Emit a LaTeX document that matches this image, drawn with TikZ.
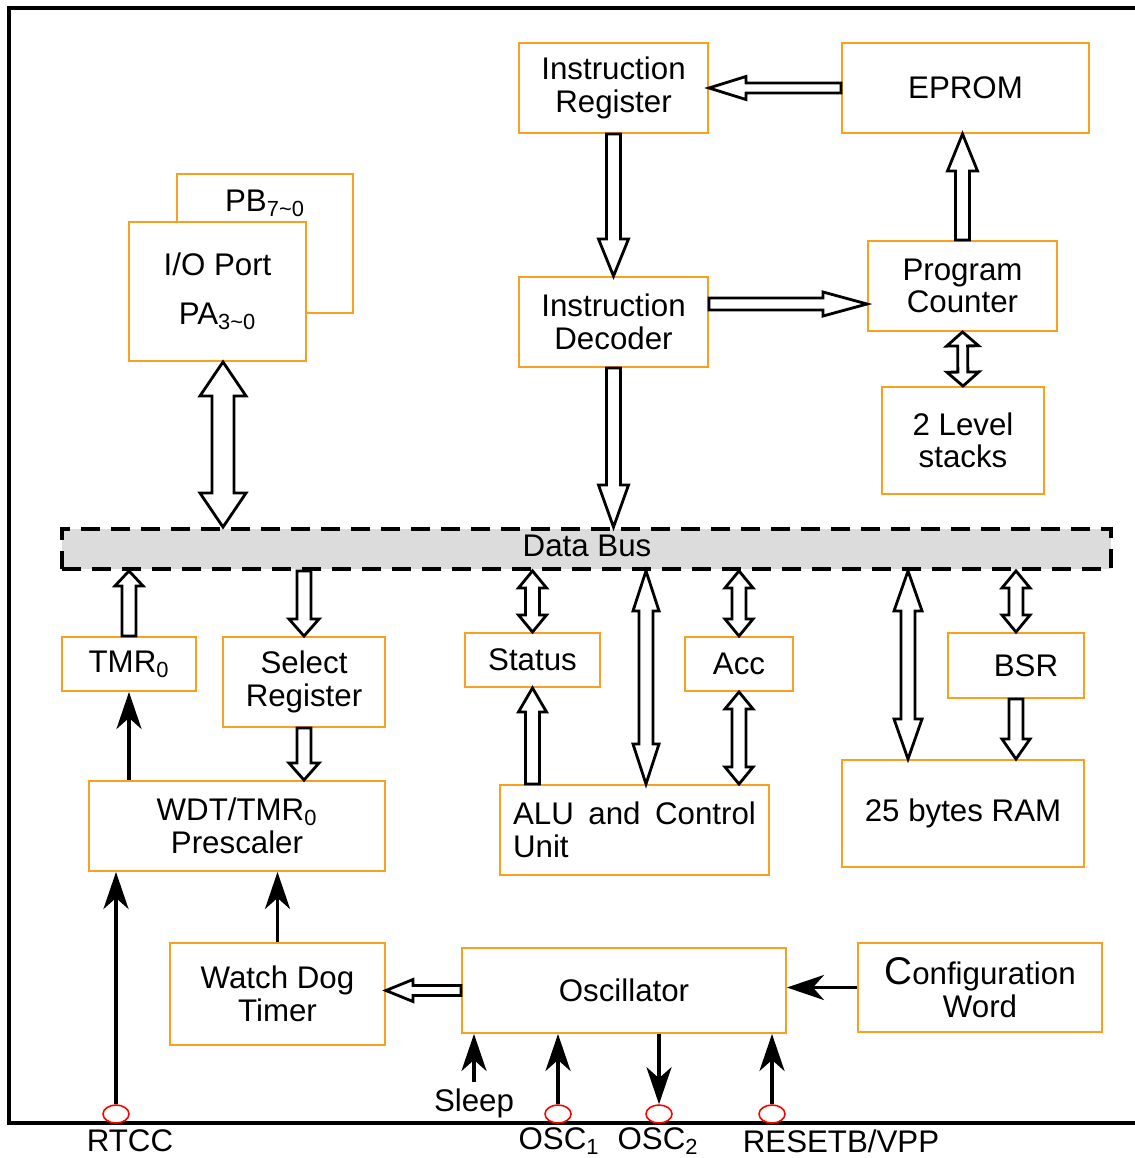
\documentclass[tikz,border=0pt]{standalone}
\usepackage{fontspec}
\setmainfont{Liberation Sans}
\usetikzlibrary{calc,positioning,shapes.geometric,arrows.meta}
\definecolor{boxorange}{RGB}{250,160,30}
\definecolor{busgray}{RGB}{220,220,220}

% hollow block arrow: shaft half width, head half width, head length (px), tail, tip
\newcommand{\hollow}[5]{%
  \pgfmathsetlengthmacro\arrW{#1*0.02cm}%
  \pgfmathsetlengthmacro\arrH{#2*0.02cm}%
  \pgfmathsetlengthmacro\arrL{#3*0.02cm}%
  \coordinate (hb) at ($#5!\arrL!#4$);
  \draw[hollowarrow] ($#4!\arrW!90:#5$) -- ($(hb)!\arrW!90:#5$)
    -- ($(hb)!\arrH!90:#5$) -- #5 -- ($(hb)!\arrH!-90:#5$)
    -- ($(hb)!\arrW!-90:#5$) -- ($#4!\arrW!-90:#5$) -- cycle;
}
% same, with a head at both ends
\newcommand{\hollowboth}[5]{%
  \pgfmathsetlengthmacro\arrW{#1*0.02cm}%
  \pgfmathsetlengthmacro\arrH{#2*0.02cm}%
  \pgfmathsetlengthmacro\arrL{#3*0.02cm}%
  \coordinate (ha) at ($#4!\arrL!#5$);
  \coordinate (hb) at ($#5!\arrL!#4$);
  \draw[hollowarrow] #4 -- ($(ha)!\arrH!90:#5$) -- ($(ha)!\arrW!90:#5$)
    -- ($(hb)!\arrW!90:#5$) -- ($(hb)!\arrH!90:#5$) -- #5
    -- ($(hb)!\arrH!-90:#5$) -- ($(hb)!\arrW!-90:#5$)
    -- ($(ha)!\arrW!-90:#5$) -- ($(ha)!\arrH!-90:#5$) -- cycle;
}

\begin{document}
\begin{tikzpicture}[x=0.02cm, y=-0.02cm, font=\fontsize{17.8}{18.5}\selectfont]
  \tikzset{
    blk/.style={draw=boxorange, line width=1.1pt, fill=white, align=center, inner sep=2pt},
    hollowarrow/.style={draw=black, line width=1.6pt, fill=white, line join=miter},
    sol/.style={line width=2.2pt, -{Stealth[length=0.74cm, width=0.5cm, inset=0.22cm]}},
    pinmark/.style={draw=red, line width=0.9pt, fill=white, ellipse, inner sep=0pt,
                    minimum width=0.52cm, minimum height=0.36cm},
    frame/.style={line width=2.3pt}
  }
  \useasboundingbox (0,0) rectangle (1134,1158);
  %% ---- chip outline ----
  \draw[frame] (1150,8) -- (9,8) -- (9,1123) -- (1150,1123);
  %% ---- top blocks ----
  \node[blk, minimum width=3.78cm, minimum height=1.8cm] (ir)    at (613.5,88)  {Instruction\\Register};
  \node[blk, minimum width=4.94cm, minimum height=1.8cm] (eprom) at (965.5,88)  {EPROM};
  \node[blk, minimum width=3.78cm, minimum height=1.8cm] (id)    at (613.5,322) {Instruction\\Decoder};
  \node[blk, minimum width=3.78cm, minimum height=1.8cm] (pc)    at (962.5,286) {Program\\Counter};
  \node[blk, minimum width=3.24cm, minimum height=2.14cm] (stk)  at (963,440.5) {2 Level\\stacks};
  \node[blk, minimum width=3.52cm, minimum height=2.78cm] (pb)   at (265,243.5) {};
  \node (pbtxt) at (265,203) {PB\textsubscript{7\textasciitilde0}};
  \node[blk, minimum width=3.54cm, minimum height=2.78cm] (io)   at (217.5,291.5)
       {I/O Port\\[0.33cm]PA\textsubscript{3\textasciitilde0}};
  %% ---- data bus ----
  \node[draw, dashed, dash pattern=on 0.38cm off 0.22cm, line width=2.2pt, fill=busgray,
        minimum width=20.98cm, minimum height=0.8cm, inner sep=0pt] (bus) at (586.5,549) {};
  \node (bustxt) at (587,546) {Data Bus};
  %% ---- lower blocks ----
  \node[blk, minimum width=2.68cm, minimum height=1.08cm] (tmr)  at (129,664)   {TMR\textsubscript{0}};
  \node[blk, minimum width=3.24cm, minimum height=1.8cm]  (sel)  at (304,682)   {Select\\Register};
  \node[blk, minimum width=2.7cm,  minimum height=1.08cm] (stat) at (532.5,660) {Status};
  \node[blk, minimum width=2.16cm, minimum height=1.08cm] (acc)  at (739,664)   {Acc};
  \node[blk, minimum width=2.72cm, minimum height=1.3cm]  (bsr)  at (1016,665.5) {\hspace*{0.4cm}BSR};
  \node[blk, minimum width=5.92cm, minimum height=1.8cm]  (pre)  at (237,826)   {WDT/TMR\textsubscript{0}\\Prescaler};
  \node[blk, minimum width=5.38cm, minimum height=1.8cm, align=justify, text width=4.86cm]
       (alu) at (634.5,830) {ALU and Control Unit};
  \node[blk, minimum width=4.84cm, minimum height=2.14cm] (ram)  at (963,813.5) {25 bytes RAM};
  \node[blk, minimum width=4.3cm,  minimum height=2.04cm] (wdt)  at (277.5,994) {Watch Dog\\Timer};
  \node[blk, minimum width=6.48cm, minimum height=1.7cm]  (osc)  at (624,990.5) {Oscillator};
  \node[blk, minimum width=4.88cm, minimum height=1.78cm] (cfg)  at (980,987.5)
       {{\fontsize{22}{22}\selectfont C}onfiguration\\Word};
  %% ---- pins ----
  \node[pinmark] (rtccpin)  at (116,1114) {};
  \node[pinmark] (osc1pin)  at (558,1114) {};
  \node[pinmark] (osc2pin)  at (659,1114) {};
  \node[pinmark] (resetpin) at (772,1114) {};
  \node (rtcclbl)  at (130,1141) {RTCC};
  \node (osc1lbl)  at (559,1141) {OSC\textsubscript{1}};
  \node (osc2lbl)  at (658,1141) {OSC\textsubscript{2}};
  \node (resetlbl) at (841,1141) {RESETB/VPP};
  \node (sleep)    at (474,1103) {Sleep};
  %% ---- fetch / decode ----
  \hollow{5}{11.5}{37}{(eprom.west)}{(ir.east)}
  \hollow{7}{15}{37}{(ir.south)}{(id.north)}
  \coordinate (idout) at ([yshift=0.36cm]id.east);
  \hollow{6}{12}{44}{(idout)}{(idout -| pc.west)}
  \hollow{7}{15}{37}{(pc.north)}{(pc.north |- eprom.south)}
  \hollowboth{5}{16}{14}{(pc.south)}{(stk.north)}
  \hollow{7}{15}{42}{(id.south)}{(id.south |- bus.north)}
  \coordinate (iox) at ([xshift=0.11cm]io.south);
  \hollowboth{11}{23}{34}{(iox)}{(iox |- bus.north)}
  %% ---- bus traffic ----
  \hollow{7}{14}{15}{(tmr.north)}{(tmr.north |- bus.south)}
  \hollow{7}{15}{17}{(sel.north |- bus.south)}{(sel.north)}
  \hollowboth{7}{14}{17}{(stat.north |- bus.south)}{(stat.north)}
  \hollow{7}{14}{24}{(stat.south |- alu.north)}{(stat.south)}
  \coordinate (alux) at ([xshift=0.23cm]alu.north);
  \hollowboth{7}{13}{40}{(alux)}{(alux |- bus.south)}
  \hollowboth{7}{14}{17}{(acc.north |- bus.south)}{(acc.north)}
  \hollowboth{7}{14}{17}{(acc.south)}{(acc.south |- alu.north)}
  \coordinate (ramx) at ([xshift=-1.1cm]ram.north);
  \hollowboth{7}{14}{40}{(ramx)}{(ramx |- bus.south)}
  \hollowboth{7}{14}{17}{(bsr.north |- bus.south)}{(bsr.north)}
  \hollow{7}{14}{20}{(bsr.south)}{(bsr.south |- ram.north)}
  \hollow{7}{15}{17}{(sel.south)}{(sel.south |- pre.north)}
  \hollow{5}{11}{27}{(osc.west)}{(osc.west -| wdt.east)}
  %% ---- timer / clock lines ----
  \draw[sol] (tmr.south |- pre.north) -- (tmr.south);
  \draw[sol] (rtccpin.north) -- (rtccpin.north |- pre.south);
  \draw[sol] (wdt.north) -- (wdt.north |- pre.south);
  \draw[sol] (sleep.north) -- (sleep.north |- osc.south);
  \draw[sol] (osc1pin.north) -- (osc1pin.north |- osc.south);
  \draw[sol] (osc.south -| osc2pin.north) -- (osc2pin.north);
  \draw[sol] (resetpin.north) -- (resetpin.north |- osc.south);
  \draw[sol] (cfg.west) -- (cfg.west -| osc.east);
\end{tikzpicture}
\end{document}
